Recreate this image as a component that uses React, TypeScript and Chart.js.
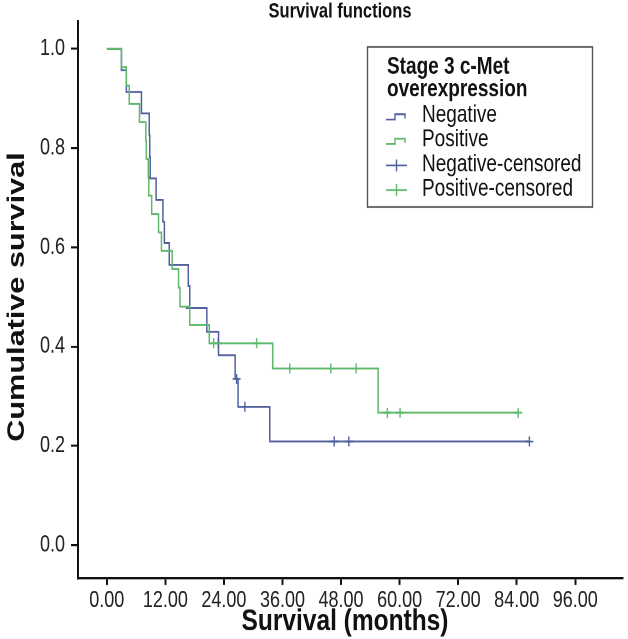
import React, { useEffect, useRef } from "react";
import { Chart, registerables } from "chart.js";

Chart.register(...registerables);

// ---- Data ----
const chartTitle = "Survival functions";
const xTitle = "Survival (months)";
const yTitle = "Cumulative survival";
const legendTitle = ["Stage 3 c-Met", "overexpression"];
const seriesNames = ["Negative", "Positive", "Negative-censored", "Positive-censored"];

const xTickValues = [0, 12, 24, 36, 48, 60, 72, 84, 96];
const yTickValues = [0, 0.2, 0.4, 0.6, 0.8, 1.0];

const negTimes = [0, 3.0, 4.0, 7.1, 8.7, 8.8, 8.9, 10.1, 11.5, 11.8, 12.8, 16.7, 17.0, 20.5, 22.9, 26.3, 26.9, 33.4, 86.6];
const negSurv = [1.0, 0.957, 0.913, 0.870, 0.826, 0.783, 0.739, 0.696, 0.652, 0.609, 0.565, 0.522, 0.478, 0.430, 0.383, 0.335, 0.279, 0.209, 0.209];

const posTimes = [0, 3.0, 4.0, 4.6, 6.7, 8.0, 8.1, 8.5, 8.6, 9.2, 10.6, 11.2, 13.4, 14.7, 15.0, 17.0, 21.0, 34.0, 55.6, 84.3];
const posSurv = [1.0, 0.963, 0.926, 0.889, 0.852, 0.815, 0.778, 0.741, 0.704, 0.667, 0.630, 0.593, 0.556, 0.519, 0.481, 0.444, 0.407, 0.356, 0.267, 0.267];

const negCensorTimes = [17.0, 26.6, 28.3, 46.6, 49.6, 86.6];
const negCensorSurv = [0.478, 0.335, 0.279, 0.209, 0.209, 0.209];

const posCensorTimes = [21.9, 22.8, 30.7, 37.5, 45.9, 51.1, 57.5, 60.1, 84.3];
const posCensorSurv = [0.407, 0.407, 0.407, 0.356, 0.356, 0.356, 0.267, 0.267, 0.267];

const NEG_COLOR = "#52609f";
const POS_COLOR = "#5fb96c";
const FONT = "'Liberation Sans', Arial, Helvetica, sans-serif";

// The reference figure is stretched vertically; draw at 628x511 and display at 628x639.
const W = 628;
const H_DISPLAY = 639;
const H = 511;
const K = H_DISPLAY / H;

const pts = (t: number[], s: number[]) => t.map((x, i) => ({ x, y: s[i] }));

export default function App() {
  const ref = useRef<HTMLCanvasElement>(null);

  useEffect(() => {
    document.body.style.margin = "0";
    const canvas = ref.current;
    if (!canvas) return;

    const decor = {
      id: "decor",
      afterDraw(chart: any) {
        const ctx = chart.ctx as CanvasRenderingContext2D;
        ctx.save();
        ctx.fillStyle = "#111";
        ctx.textAlign = "center";
        ctx.textBaseline = "middle";
        // main title
        ctx.font = `bold 16.5px ${FONT}`;
        ctx.fillText(chartTitle, 340, 12 / K);
        // x title
        ctx.font = `bold 24.5px ${FONT}`;
        ctx.fillText(xTitle, 345, 622 / K);
        // y title
        ctx.save();
        ctx.translate(17, 297 / K);
        ctx.rotate(-Math.PI / 2);
        ctx.fillText(yTitle, 0, 0);
        ctx.restore();

        // legend box
        const bx = 367, by = 47 / K, bw = 225, bh = 160 / K;
        ctx.strokeStyle = "#555";
        ctx.lineWidth = 1.4;
        ctx.strokeRect(bx + 0.5, by, bw, bh);
        ctx.textAlign = "left";
        ctx.fillStyle = "#111";
        ctx.font = `bold 19px ${FONT}`;
        ctx.fillText(legendTitle[0], 387, 67 / K);
        ctx.fillText(legendTitle[1], 387, 90 / K);
        ctx.font = `19px ${FONT}`;
        const rows = [115.5, 140, 164.5, 189].map((v) => v / K);
        const colors = [NEG_COLOR, POS_COLOR, NEG_COLOR, POS_COLOR];
        rows.forEach((ry, i) => {
          ctx.strokeStyle = colors[i];
          ctx.lineWidth = 1.4;
          ctx.beginPath();
          if (i < 2) {
            ctx.moveTo(386, ry + 3.2);
            ctx.lineTo(395, ry + 3.2);
            ctx.lineTo(395, ry - 1);
            ctx.lineTo(405, ry - 1);
            ctx.lineTo(405, ry + 2.4);
          } else {
            ctx.moveTo(386, ry + 0.8);
            ctx.lineTo(407, ry + 0.8);
            ctx.moveTo(396.5, ry - 4);
            ctx.lineTo(396.5, ry + 5.6);
          }
          ctx.stroke();
          ctx.fillStyle = "#111";
          ctx.fillText(seriesNames[i], 422, ry);
        });
        ctx.restore();
      },
    };

    const chart = new Chart(canvas, {
      type: "line",
      data: {
        datasets: [
          {
            label: seriesNames[1],
            data: pts(posTimes, posSurv),
            borderColor: POS_COLOR,
            borderWidth: 1.5,
            pointRadius: 0,
            stepped: "before",
            fill: false,
          },
          {
            label: seriesNames[0],
            data: pts(negTimes, negSurv),
            borderColor: NEG_COLOR,
            borderWidth: 1.5,
            pointRadius: 0,
            stepped: "before",
            fill: false,
          },
          {
            label: seriesNames[3],
            data: pts(posCensorTimes, posCensorSurv),
            showLine: false,
            pointStyle: "cross",
            pointRadius: 4,
            pointBorderWidth: 1.4,
            borderColor: POS_COLOR,
            pointBorderColor: POS_COLOR,
          },
          {
            label: seriesNames[2],
            data: pts(negCensorTimes, negCensorSurv),
            showLine: false,
            pointStyle: "cross",
            pointRadius: 4,
            pointBorderWidth: 1.4,
            borderColor: NEG_COLOR,
            pointBorderColor: NEG_COLOR,
          },
        ],
      },
      options: {
        responsive: false,
        animation: false,
        devicePixelRatio: 2,
        events: [],
        layout: { padding: { top: 18 / K, left: 0, right: 0, bottom: 0 } },
        plugins: {
          legend: { display: false },
          tooltip: { enabled: false },
          title: { display: false },
        },
        scales: {
          x: {
            type: "linear",
            min: -5.9,
            max: 105.7,
            afterBuildTicks: (s: any) => {
              s.ticks = xTickValues.map((v) => ({ value: v }));
            },
            afterFit: (s: any) => {
              s.height = H - 578 / K;
            },
            ticks: {
              autoSkip: false,
              maxRotation: 0,
              padding: 2,
              color: "#222",
              font: { family: FONT, size: 18 },
              callback: (v: any) => Number(v).toFixed(2),
            },
            grid: {
              display: true,
              drawOnChartArea: false,
              drawTicks: true,
              tickLength: 5.6,
              color: "#111",
              lineWidth: 2,
            },
            border: { display: true, color: "#111", width: 1.7 },
          },
          y: {
            type: "linear",
            min: -0.0661,
            max: 1.0561,
            afterBuildTicks: (s: any) => {
              s.ticks = yTickValues.map((v) => ({ value: v }));
            },
            afterFit: (s: any) => {
              s.width = 78;
            },
            ticks: {
              autoSkip: false,
              padding: 6,
              color: "#222",
              font: { family: FONT, size: 18 },
              callback: (v: any) => Number(v).toFixed(1),
            },
            grid: {
              display: true,
              drawOnChartArea: false,
              drawTicks: true,
              tickLength: 7,
              color: "#111",
              lineWidth: 1.7,
            },
            border: { display: true, color: "#111", width: 2 },
          },
        },
      },
      plugins: [decor],
    });

    return () => chart.destroy();
  }, []);

  return (
    <div style={{ width: W, height: H_DISPLAY }}>
      <canvas
        ref={ref}
        width={W}
        height={H}
        style={{ display: "block", width: `${W}px`, height: `${H_DISPLAY}px` }}
      />
    </div>
  );
}
